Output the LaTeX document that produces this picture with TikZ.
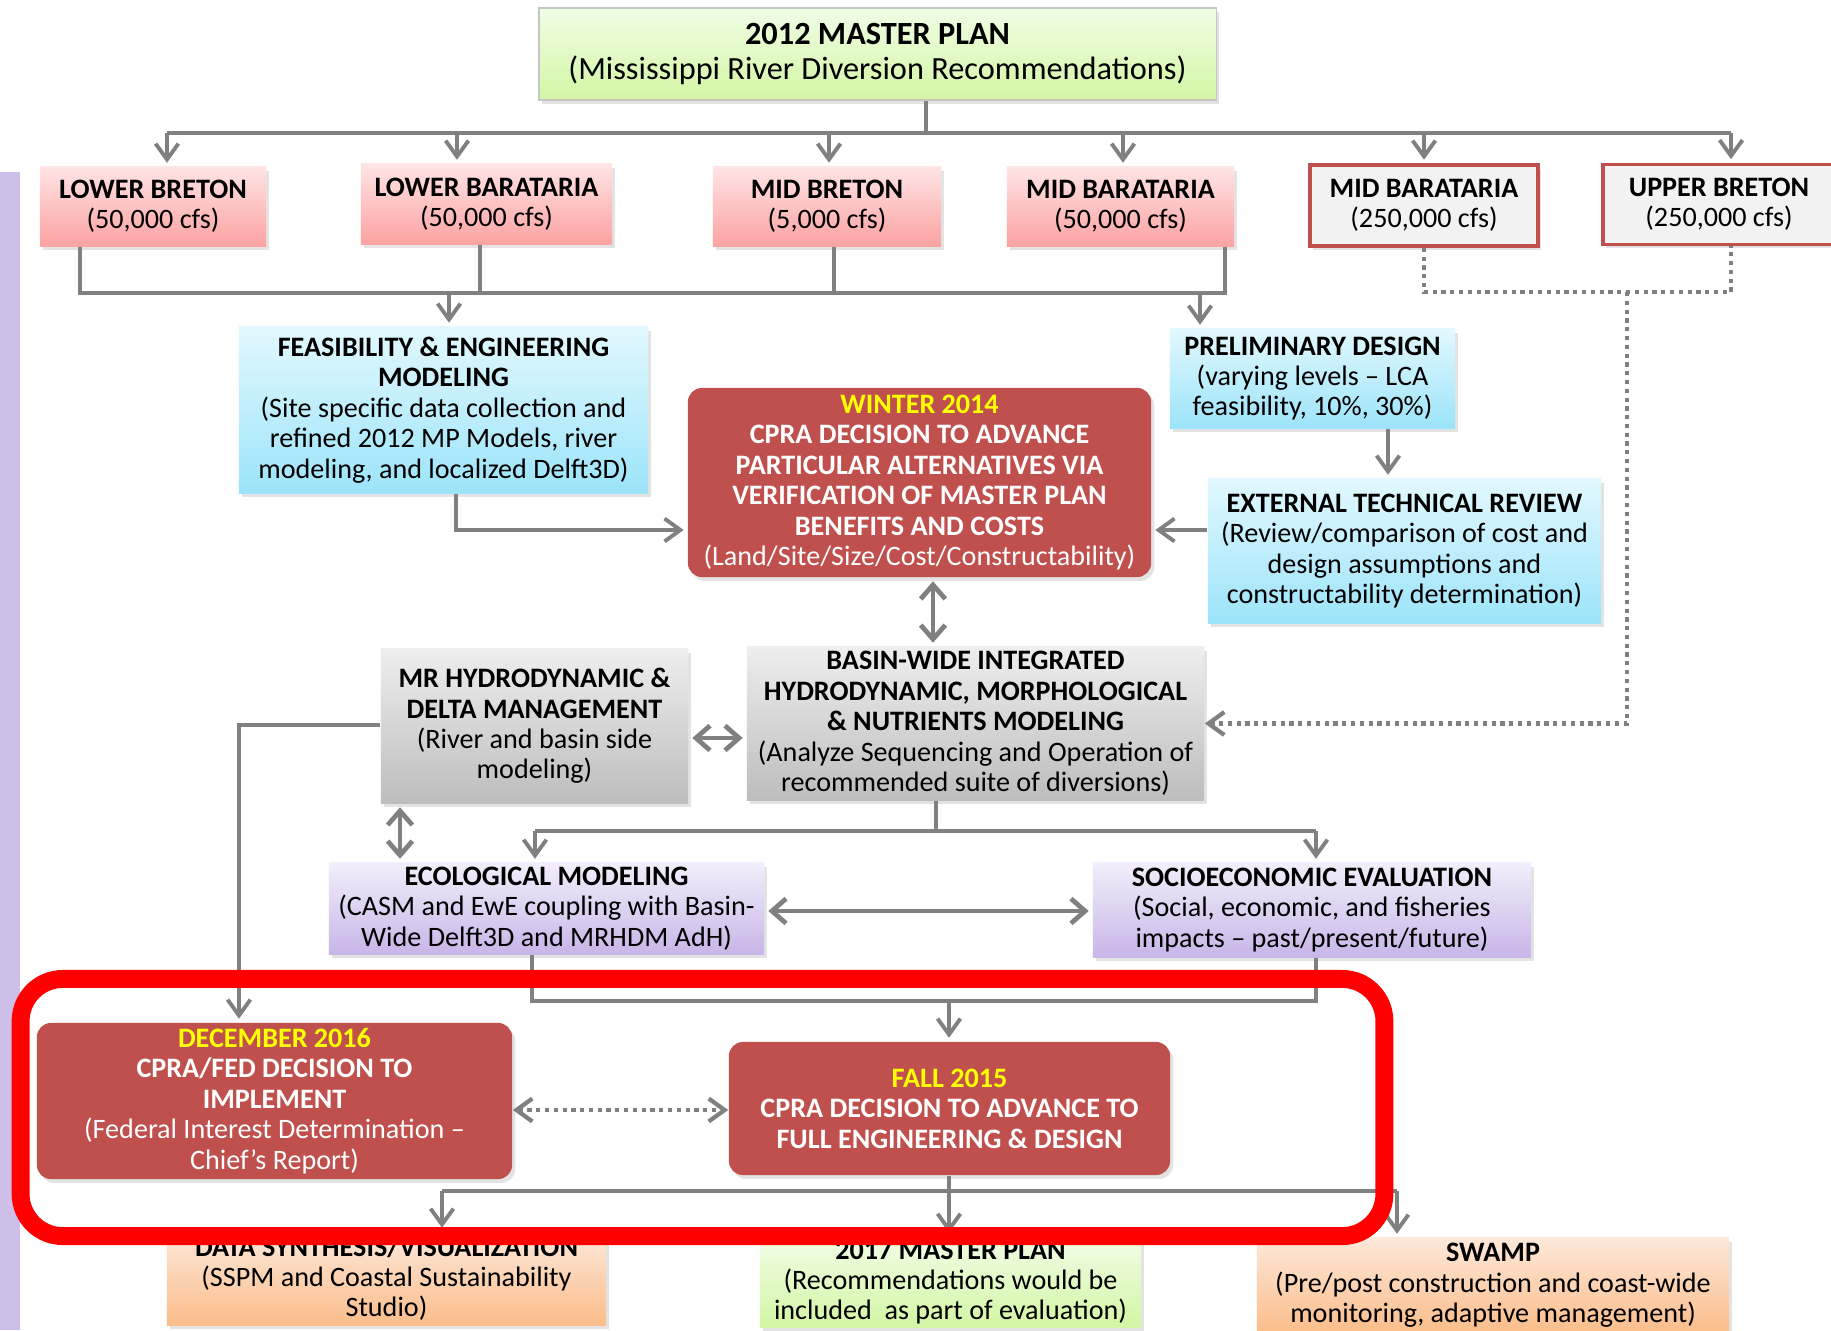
\documentclass[tikz,border=0pt]{standalone}
\usepackage{fontspec}
\setmainfont{Carlito}
\usepackage{xcolor}
\usepackage{tikz}
\usetikzlibrary{positioning, arrows.meta, shadows}
\definecolor{pinktop}{HTML}{FFE4E4}
\definecolor{pinkbot}{HTML}{FCA2A2}
\definecolor{bluetop}{HTML}{E2F8FE}
\definecolor{bluebot}{HTML}{9CE4FA}
\definecolor{graytop}{HTML}{EEEEEE}
\definecolor{graybot}{HTML}{BDBDBD}
\definecolor{purptop}{HTML}{F2EEFA}
\definecolor{purpbot}{HTML}{C8B6E8}
\definecolor{orangetop}{HTML}{FDE8DA}
\definecolor{orangebot}{HTML}{FBBD8A}
\definecolor{greentop}{HTML}{F0FDE6}
\definecolor{greenbot}{HTML}{D3F6A4}
\definecolor{cpra}{HTML}{C0504D}
\definecolor{panelgray}{HTML}{F2F2F2}
\definecolor{connect}{HTML}{808080}
\definecolor{sidebar}{HTML}{CDBFE8}
\definecolor{datehl}{HTML}{FFFF00}

\tikzset{
  box/.style={rectangle, align=center, inner sep=1pt,
              font=\fontsize{8}{8.65}\selectfont,
              drop shadow={shadow xshift=0.9pt, shadow yshift=-1.1pt, opacity=0.22}},
  pinkbox/.style={box, top color=pinktop, bottom color=pinkbot},
  altbox/.style={box, fill=panelgray, draw=cpra, line width=1pt},
  bluebox/.style={box, top color=bluetop, bottom color=bluebot},
  graybox/.style={box, top color=graytop, bottom color=graybot},
  purpbox/.style={box, top color=purptop, bottom color=purpbot},
  orangebox/.style={box, top color=orangetop, bottom color=orangebot},
  greenbox/.style={box, top color=greentop, bottom color=greenbot},
  cprabox/.style={box, fill=cpra, text=white, rounded corners=4pt},
  conn/.style={draw=connect, line width=1.1pt},
  arr/.style={conn, -{Straight Barb[length=4.5pt,width=6.5pt]}, shorten >=1pt},
  dblarr/.style={conn, line width=1.35pt,
                 {Straight Barb[length=4pt,width=7pt]}-{Straight Barb[length=4pt,width=7pt]},
                 shorten <=1pt, shorten >=1pt},
  dotconn/.style={conn, line width=1.2pt, dash pattern=on 1.2pt off 1.3pt},
  dotarr/.style={dotconn, -{Straight Barb[length=4.5pt,width=6.5pt]}},
  dotdbl/.style={dotconn, {Straight Barb[length=4.5pt,width=6.5pt]}-{Straight Barb[length=4.5pt,width=6.5pt]}}
}

\begin{document}
\begin{tikzpicture}[x=0.01cm, y=-0.01cm]
  \useasboundingbox (0,0) rectangle (1831,1330);
  \fill[white] (0,0) rectangle (1831,1330);
  \clip (0,0) rectangle (1831,1330);

  % side bar
  \fill[sidebar] (0,172) rectangle (20,1330);

  % master plan and diversions
  \node (mp) [greenbox, draw=gray!45, minimum width=6.77cm, minimum height=0.92cm,
              font=\fontsize{9.2}{10}\selectfont] at (877.5,54)
    {\textbf{2012 MASTER PLAN}\\(Mississippi River Diversion Recommendations)};

  \node (lb) [pinkbox, minimum width=2.26cm, minimum height=0.79cm] at (153,206.5)
    {\textbf{LOWER BRETON}\\(50,000 cfs)};
  \node (lbar) [pinkbox, minimum width=2.51cm, minimum height=0.80cm] at (486.5,204)
    {\textbf{LOWER BARATARIA}\\(50,000 cfs)};
  \node (mb) [pinkbox, minimum width=2.28cm, minimum height=0.79cm] at (827,206.5)
    {\textbf{MID BRETON}\\(5,000 cfs)};
  \node (mbar) [pinkbox, minimum width=2.27cm, minimum height=0.79cm] at (1120.5,206.5)
    {\textbf{MID BARATARIA}\\(50,000 cfs)};
  \node (mbarbig) [altbox, minimum width=2.28cm, minimum height=0.81cm] at (1424,205.5)
    {\textbf{MID BARATARIA}\\(250,000 cfs)};
  \node (ub) [altbox, minimum width=2.32cm, minimum height=0.80cm] at (1719,204.5)
    {\textbf{UPPER BRETON}\\(250,000 cfs)};

  % design and review
  \node (feas) [bluebox, minimum width=4.09cm, minimum height=1.66cm] at (443.5,410)
    {\textbf{FEASIBILITY \& ENGINEERING}\\\textbf{MODELING}\\(Site specific data collection and\\refined 2012 MP Models, river\\modeling, and localized Delft3D)};
  \node (prelim) [bluebox, minimum width=2.85cm, minimum height=0.99cm] at (1312.5,378.5)
    {\textbf{PRELIMINARY DESIGN}\\(varying levels -- LCA\\feasibility, 10\%, 30\%)};
  \node (ext) [bluebox, minimum width=3.93cm, minimum height=1.44cm] at (1404.5,551)
    {\textbf{EXTERNAL TECHNICAL REVIEW}\\(Review/comparison of cost and\\design assumptions and\\constructability determination)};
  \node (win) [cprabox, minimum width=4.63cm, minimum height=1.89cm] at (919.5,482.5)
    {\textbf{\textcolor{datehl}{WINTER 2014}}\\\textbf{CPRA DECISION TO ADVANCE}\\\textbf{PARTICULAR ALTERNATIVES VIA}\\\textbf{VERIFICATION OF MASTER PLAN}\\\textbf{BENEFITS AND COSTS}\\(Land/Site/Size/Cost/Constructability)};

  % modeling
  \node (mr) [graybox, minimum width=3.07cm, minimum height=1.54cm] at (534.5,726)
    {\textbf{MR HYDRODYNAMIC \&}\\\textbf{DELTA MANAGEMENT}\\(River and basin side\\modeling)};
  \node (basin) [graybox, minimum width=4.57cm, minimum height=1.53cm] at (975.5,723.5)
    {\textbf{BASIN-WIDE INTEGRATED}\\\textbf{HYDRODYNAMIC, MORPHOLOGICAL}\\\textbf{\& NUTRIENTS MODELING}\\(Analyze Sequencing and Operation of\\recommended suite of diversions)};
  \node (eco) [purpbox, minimum width=4.35cm, minimum height=0.91cm] at (546.5,908.5)
    {\textbf{ECOLOGICAL MODELING}\\(CASM and EwE coupling with Basin-\\Wide Delft3D and MRHDM AdH)};
  \node (socio) [purpbox, minimum width=4.38cm, minimum height=0.94cm] at (1312,910)
    {\textbf{SOCIOECONOMIC EVALUATION}\\(Social, economic, and fisheries\\impacts -- past/present/future)};

  % decisions
  \node (dec) [cprabox, minimum width=4.75cm, minimum height=1.56cm] at (274.5,1101)
    {\textbf{\textcolor{datehl}{DECEMBER 2016}}\\\textbf{CPRA/FED DECISION TO}\\\textbf{IMPLEMENT}\\(Federal Interest Determination --\\Chief’s Report)};
  \node (fall) [cprabox, minimum width=4.41cm, minimum height=1.33cm] at (949.5,1108.5)
    {\textbf{\textcolor{datehl}{FALL 2015}}\\\textbf{CPRA DECISION TO ADVANCE TO}\\\textbf{FULL ENGINEERING \& DESIGN}};

  % outcomes
  \node (data) [orangebox, minimum width=4.39cm, minimum height=0.93cm] at (386.5,1278.5)
    {\textbf{DATA SYNTHESIS/VISUALIZATION}\\(SSPM and Coastal Sustainability\\Studio)};
  \node (mpnext) [greenbox, minimum width=3.81cm, minimum height=0.85cm] at (950.5,1282.5)
    {\textbf{2017 MASTER PLAN}\\(Recommendations would be\\included\ \ as part of evaluation)};
  \node (swamp) [orangebox, minimum width=4.72cm, minimum height=0.95cm] at (1493,1285.5)
    {\textbf{SWAMP}\\(Pre/post construction and coast-wide\\monitoring, adaptive management)};

  % master plan to diversions
  \coordinate (tbus) at (926,133);
  \coordinate (t1) at (167,133);
  \coordinate (t2) at (457,133);
  \coordinate (t3) at (829,133);
  \coordinate (t4) at (1123,133);
  \coordinate (t5) at (1424,133);
  \coordinate (t6) at (1731,133);
  \draw[conn] (tbus |- mp.south) -- (tbus);
  \draw[conn] (t1) -- (t6);
  \draw[arr] (t1) -- (t1 |- lb.north);
  \draw[arr] (t2) -- (t2 |- lbar.north);
  \draw[arr] (t3) -- (t3 |- mb.north);
  \draw[arr] (t4) -- (t4 |- mbar.north);
  \draw[arr] (t5) -- (t5 |- mbarbig.north);
  \draw[arr] (t6) -- (t6 |- ub.north);

  % diversions to feasibility and design
  \coordinate (m1) at (80,293);
  \coordinate (m2) at (480,293);
  \coordinate (m3) at (834,293);
  \coordinate (m4) at (1225,293);
  \coordinate (fe) at (449,293);
  \coordinate (pd) at (1200,293);
  \draw[conn] (m1 |- lb.south) -- (m1) -- (m4) -- (m4 |- mbar.south);
  \draw[conn] (m2 |- lbar.south) -- (m2);
  \draw[conn] (m3 |- mb.south) -- (m3);
  \draw[arr] (fe) -- (fe |- feas.north);
  \draw[arr] (pd) -- (pd |- prelim.north);

  % big diversions, dotted
  \coordinate (dbus) at (1627,292);
  \coordinate (dub) at (1731,292);
  \draw[dotconn] (mbarbig.south) -- (mbarbig.south |- dbus) -- (dub) -- (dub |- ub.south);
  \draw[dotarr] (dbus) |- (basin.east);

  % into the winter decision
  \coordinate (fw) at (456,530);
  \coordinate (pe) at (1388,450);
  \coordinate (wb) at (933,610);
  \draw[arr] (fw |- feas.south) -- (fw) -- (fw -| win.west);
  \draw[arr] (pe |- prelim.south) -- (pe |- ext.north);
  \draw[arr] (ext.west |- fw) -- (win.east |- fw);
  \draw[dblarr] (wb |- win.south) -- (wb |- basin.north);

  % modeling links
  \coordinate (mbk) at (717,738);
  \coordinate (mrd) at (239,725);
  \coordinate (me) at (400,835);
  \draw[dblarr] (mr.east |- mbk) -- (basin.west |- mbk);
  \draw[arr] (mr.west |- mrd) -- (mrd) -- (mrd |- dec.north);
  \draw[dblarr] (me |- mr.south) -- (me |- eco.north);

  \coordinate (bbus) at (936,831);
  \coordinate (ein) at (535,831);
  \coordinate (sin) at (1316,831);
  \coordinate (es) at (930,911);
  \draw[conn] (bbus |- basin.south) -- (bbus);
  \draw[conn] (ein) -- (sin);
  \draw[arr] (ein) -- (ein |- eco.north);
  \draw[arr] (sin) -- (sin |- socio.north);
  \draw[dblarr] (eco.east |- es) -- (socio.west |- es);

  % evaluation to fall decision
  \coordinate (ef) at (532,1001);
  \coordinate (sf) at (1316,1001);
  \coordinate (fin) at (949,1001);
  \draw[conn] (ef |- eco.south) -- (ef) -- (sf) -- (sf |- socio.south);
  \draw[arr] (fin) -- (fin |- fall.north);

  \coordinate (df) at (620,1110);
  \draw[dotdbl] (dec.east |- df) -- (fall.west |- df);

  % fall decision to outcomes
  \coordinate (fb) at (949,1191);
  \coordinate (dsin) at (442,1191);
  \coordinate (swin) at (1397,1191);
  \draw[conn] (fb |- fall.south) -- (fb);
  \draw[conn] (dsin) -- (swin);
  \draw[arr] (dsin) -- (dsin |- data.north);
  \draw[arr] (fb) -- (fb |- mpnext.north);
  \draw[arr] (swin) -- (swin |- swamp.north);

  % highlight frame
  \node (focus) [draw=red, line width=5.1pt, rounded corners=12pt,
                 minimum width=13.63cm, minimum height=2.57cm] at (702.5,1107.5) {};
\end{tikzpicture}
\end{document}
